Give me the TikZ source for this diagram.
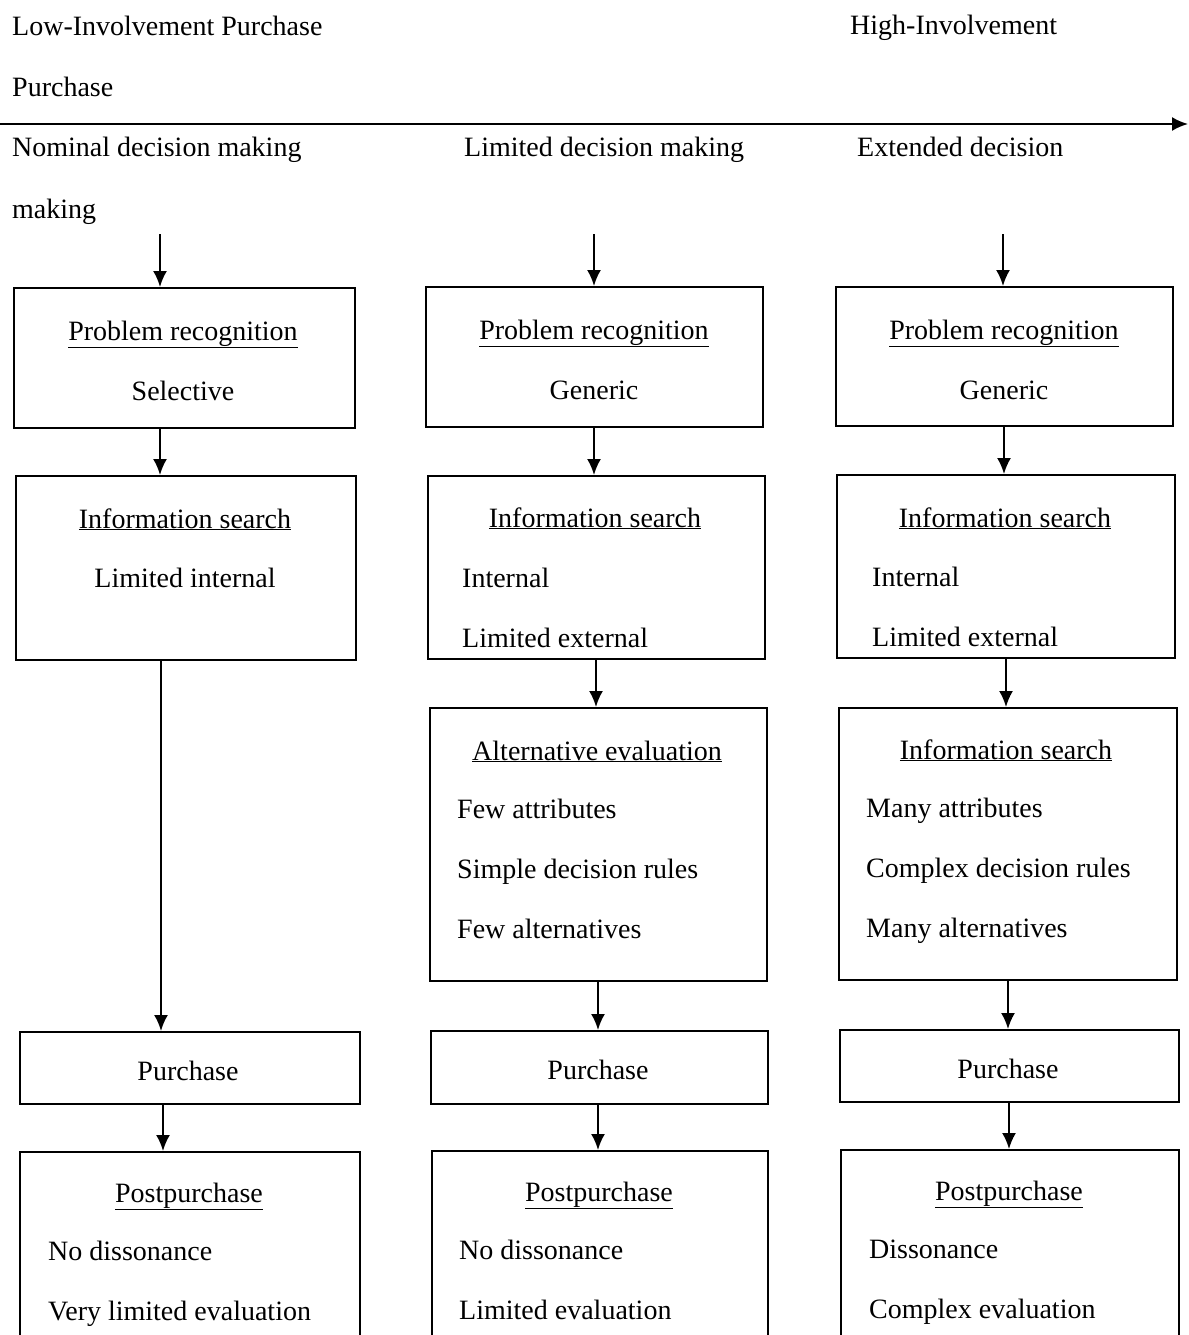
\documentclass[tikz,border=0pt]{standalone}
\usepackage{fontspec}
\setmainfont{Liberation Serif}
\usetikzlibrary{arrows.meta}
\begin{document}
\begin{tikzpicture}[x=1pt,y=-1pt,
  every node/.style={font=\fontsize{28}{32}\selectfont, inner sep=0pt},
  box/.style={draw, line width=1.9pt, rectangle, anchor=north west},
  lbl/.style={anchor=base west},
  ctr/.style={anchor=base},
  arr/.style={line width=2pt, -{Latex[length=16pt,width=14pt]}}]
\useasboundingbox (0,0) rectangle (1188,1335);
\clip (0,0) rectangle (1188,1335);
\fill[white] (0,0) rectangle (1188,1335);

% scale header
\node[lbl] (low) at (12,36) {Low-Involvement Purchase};
\node[lbl] (high) at (850,35) {High-Involvement};
\node[lbl] (lowb) at (12,97) {Purchase};
\coordinate (axL) at (0,124);
\coordinate (axR) at (1188,124);
\draw[arr] (axL) -- (axR);
\node[lbl] (nom) at (12,157) {Nominal decision making};
\node[lbl] (nomb) at (12,218) {making};
\node[lbl] (lim) at (464,156) {Limited decision making};
\node[lbl] (ext) at (857,156) {Extended decision};

% boxes
\node[box, minimum width=341pt, minimum height=140pt] (pr1) at (13,287) {};
\node[box, minimum width=337pt, minimum height=140pt] (pr2) at (425,286) {};
\node[box, minimum width=337pt, minimum height=139pt] (pr3) at (835,286) {};
\node[box, minimum width=340pt, minimum height=184pt] (is1) at (15,475) {};
\node[box, minimum width=337pt, minimum height=183pt] (is2) at (427,475) {};
\node[box, minimum width=338pt, minimum height=183pt] (is3) at (836,474) {};
\node[box, minimum width=337pt, minimum height=273pt] (ae2) at (429,707) {};
\node[box, minimum width=338pt, minimum height=272pt] (ae3) at (838,707) {};
\node[box, minimum width=340pt, minimum height=72pt] (pu1) at (19,1031) {};
\node[box, minimum width=337pt, minimum height=73pt] (pu2) at (430,1030) {};
\node[box, minimum width=339pt, minimum height=72pt] (pu3) at (839,1029) {};
\node[box, minimum width=340pt, minimum height=230pt] (pp1) at (19,1151) {};
\node[box, minimum width=336pt, minimum height=230pt] (pp2) at (431,1150) {};
\node[box, minimum width=338pt, minimum height=230pt] (pp3) at (840,1149) {};

% box texts
\node[ctr] (pr1a) at (183,340) {\underline{Problem recognition}};
\node[ctr] (pr1b) at (183,400) {Selective};
\node[ctr] (pr2a) at (594,339) {\underline{Problem recognition}};
\node[ctr] (pr2b) at (594,399) {Generic};
\node[ctr] (pr3a) at (1004,339) {\underline{Problem recognition}};
\node[ctr] (pr3b) at (1004,399) {Generic};

\node[ctr] (is1a) at (185,528) {\underline{Information search}};
\node[ctr] (is1b) at (185,587) {Limited internal};
\node[ctr] (is2a) at (595,527) {\underline{Information search}};
\node[lbl] (is2b) at (462,587) {Internal};
\node[lbl] (is2c) at (462,647) {Limited external};
\node[ctr] (is3a) at (1005,527) {\underline{Information search}};
\node[lbl] (is3b) at (872,586) {Internal};
\node[lbl] (is3c) at (872,646) {Limited external};

\node[ctr] (ae2a) at (597,760) {\underline{Alternative evaluation}};
\node[lbl] (ae2b) at (457,818) {Few attributes};
\node[lbl] (ae2c) at (457,878) {Simple decision rules};
\node[lbl] (ae2d) at (457,938) {Few alternatives};
\node[ctr] (ae3a) at (1006,759) {\underline{Information search}};
\node[lbl] (ae3b) at (866,817) {Many attributes};
\node[lbl] (ae3c) at (866,877) {Complex decision rules};
\node[lbl] (ae3d) at (866,937) {Many alternatives};

\node[ctr] (pu1a) at (188,1080) {Purchase};
\node[ctr] (pu2a) at (598,1079) {Purchase};
\node[ctr] (pu3a) at (1008,1078) {Purchase};

\node[ctr] (pp1a) at (189,1202) {\underline{Postpurchase}};
\node[lbl] (pp1b) at (48,1260) {No dissonance};
\node[lbl] (pp1c) at (48,1320) {Very limited evaluation};
\node[ctr] (pp2a) at (599,1201) {\underline{Postpurchase}};
\node[lbl] (pp2b) at (459,1259) {No dissonance};
\node[lbl] (pp2c) at (459,1319) {Limited evaluation};
\node[ctr] (pp3a) at (1009,1200) {\underline{Postpurchase}};
\node[lbl] (pp3b) at (869,1258) {Dissonance};
\node[lbl] (pp3c) at (869,1318) {Complex evaluation};

% connector columns
\coordinate (t1) at (160,234);
\coordinate (t2) at (594,234);
\coordinate (t3) at (1003,234);
\coordinate (xa) at (160,0);
\coordinate (xb) at (594,0);
\coordinate (xc) at (1004,0);
\coordinate (xd) at (161,0);
\coordinate (xe) at (596,0);
\coordinate (xf) at (1006,0);
\coordinate (xg) at (598,0);
\coordinate (xh) at (1008,0);
\coordinate (xi) at (163,0);
\coordinate (xj) at (1009,0);

% connectors
\draw[arr] (t1) -- (pr1.north -| t1);
\draw[arr] (t2) -- (pr2.north -| t2);
\draw[arr] (t3) -- (pr3.north -| t3);
\draw[arr] (pr1.south -| xa) -- (is1.north -| xa);
\draw[arr] (pr2.south -| xb) -- (is2.north -| xb);
\draw[arr] (pr3.south -| xc) -- (is3.north -| xc);
\draw[arr] (is1.south -| xd) -- (pu1.north -| xd);
\draw[arr] (is2.south -| xe) -- (ae2.north -| xe);
\draw[arr] (is3.south -| xf) -- (ae3.north -| xf);
\draw[arr] (ae2.south -| xg) -- (pu2.north -| xg);
\draw[arr] (ae3.south -| xh) -- (pu3.north -| xh);
\draw[arr] (pu1.south -| xi) -- (pp1.north -| xi);
\draw[arr] (pu2.south -| xg) -- (pp2.north -| xg);
\draw[arr] (pu3.south -| xj) -- (pp3.north -| xj);
\end{tikzpicture}
\end{document}
